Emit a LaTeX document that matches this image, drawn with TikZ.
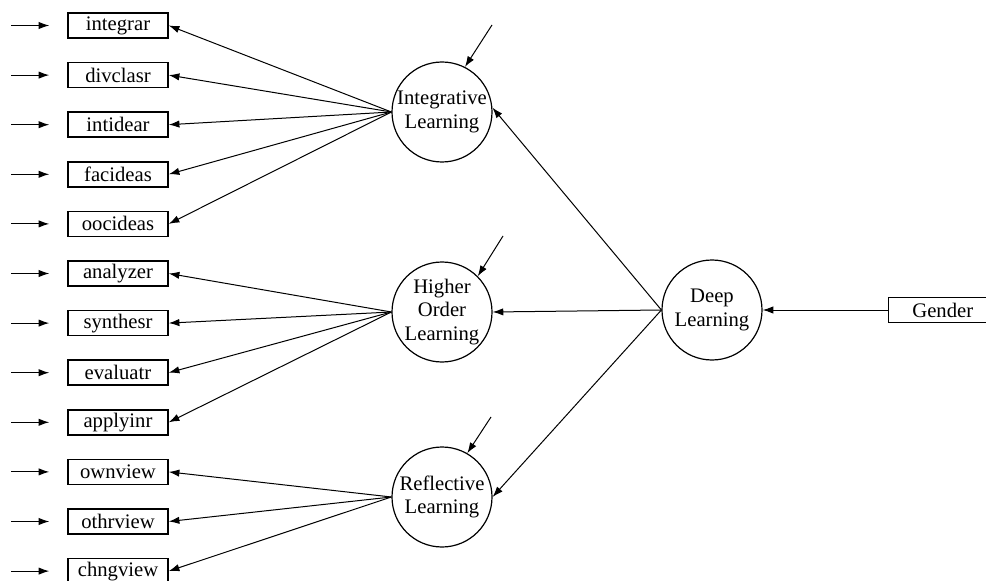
\documentclass[tikz,border=0pt]{standalone}
\usepackage{fontspec}
\setmainfont{Liberation Serif}
\usetikzlibrary{arrows.meta}

\begin{document}
\begin{tikzpicture}[x=0.75pt, y=-0.75pt, font=\fontsize{15.5}{17.5}\selectfont, line width=0.75pt,
  obs/.style={draw, rectangle, line width=1.1pt, minimum width=75pt, minimum height=18.75pt, inner sep=0pt},
  lat/.style={draw, circle, line width=0.9pt, minimum size=75pt, inner sep=0pt, align=center},
  reg/.style={-{Latex[length=8pt, width=5.5pt]}}]
\useasboundingbox (0,0) rectangle (986,581);

\node[obs] (integrar) at (118,25.5) {integrar};
\node[obs] (divclasr) at (118,75.1) {divclasr};
\node[obs] (intidear) at (118,124.7) {intidear};
\node[obs] (facideas) at (118,174.3) {facideas};
\node[obs] (oocideas) at (118,223.9) {oocideas};
\node[obs] (analyzer) at (118,273.5) {analyzer};
\node[obs] (synthesr) at (118,323.1) {synthesr};
\node[obs] (evaluatr) at (118,372.7) {evaluatr};
\node[obs] (applyinr) at (118,422.3) {applyinr};
\node[obs] (ownview) at (118,471.9) {ownview};
\node[obs] (othrview) at (118,521.5) {othrview};
\node[obs] (chngview) at (118,571.1) {chngview};

\node[lat] (int) at (442,112) {Integrative\\Learning};
\node[lat] (hol) at (442,312) {Higher\\Order\\Learning};
\node[lat] (ref) at (442,497) {Reflective\\Learning};
\node[lat] (deep) at (712,310) {Deep\\Learning};
\node[obs, minimum width=81pt, anchor=west] (gen) at (888,310) {Gender};

\foreach \n in {integrar,divclasr,intidear,facideas,oocideas,analyzer,synthesr,evaluatr,applyinr,ownview,othrview,chngview}{
  \path (\n.west) ++(-56,0) coordinate (s-\n) ++(38,0) coordinate (t-\n);
  \draw[reg] (s-\n) -- (t-\n);
}

\foreach \n in {integrar,divclasr,intidear,facideas,oocideas}
  \draw[reg] (int.west) -- (\n.east);
\foreach \n in {analyzer,synthesr,evaluatr,applyinr}
  \draw[reg] (hol.west) -- (\n.east);
\foreach \n in {ownview,othrview,chngview}
  \draw[reg] (ref.west) -- (\n.east);

\coordinate (eint) at (492,25);
\coordinate (ehol) at (503,236);
\coordinate (eref) at (491,417);
\draw[reg] (eint) -- (int.63);
\draw[reg] (ehol) -- (hol.45);
\draw[reg] (eref) -- (ref.60);

\draw[reg] (deep.west) -- (int.5);
\draw[reg] (deep.west) -- (hol.east);
\draw[reg] (deep.west) -- (ref.east);
\draw[reg] (gen.west) -- (deep.east);
\end{tikzpicture}
\end{document}
